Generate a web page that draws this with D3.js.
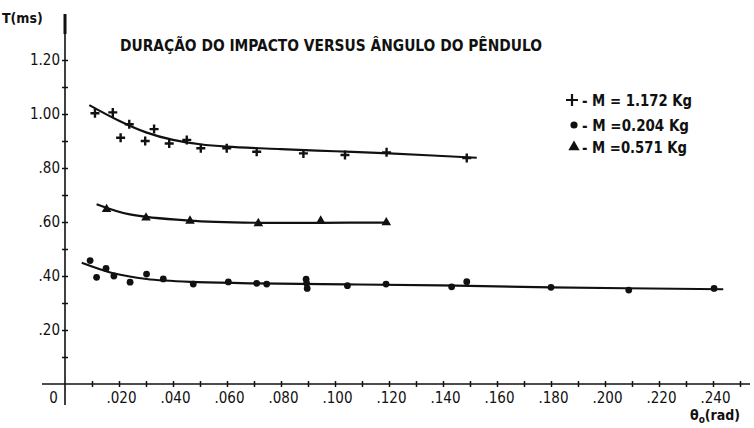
<!DOCTYPE html>
<html>
<head>
<meta charset="utf-8">
<script src="https://cdn.jsdelivr.net/npm/d3@7"></script>
<style>
  html, body { margin: 0; padding: 0; background: #fff; }
  svg { display: block; }
  text { font-family: "DejaVu Sans Condensed", "Liberation Sans Narrow", "Liberation Sans", sans-serif; fill: #111; }
</style>
</head>
<body>
<svg id="chart" width="754" height="428"></svg>
<script>
// Impact duration T (ms) against initial pendulum angle θo (rad), three masses
const titleText = "DURAÇÃO DO IMPACTO VERSUS ÂNGULO DO PÊNDULO";

// M = 1.172 Kg (crosses)
const plusX = [0.0111, 0.0177, 0.0206, 0.0238, 0.0297, 0.0330, 0.0386, 0.0451, 0.0503, 0.0599, 0.0710, 0.0883, 0.1037, 0.1191, 0.1488];
const plusY = [1.003, 1.006, 0.912, 0.962, 0.900, 0.944, 0.891, 0.904, 0.873, 0.873, 0.860, 0.854, 0.848, 0.858, 0.837];
const plusFitX = [0.009, 0.020, 0.030, 0.040, 0.050, 0.060, 0.080, 0.100, 0.120, 0.1525];
const plusFitY = [1.033, 0.975, 0.932, 0.904, 0.888, 0.879, 0.870, 0.862, 0.854, 0.838];

// M = 0.571 Kg (triangles)
const triX = [0.0154, 0.0300, 0.0463, 0.0716, 0.0947, 0.1190];
const triY = [0.647, 0.616, 0.604, 0.595, 0.604, 0.598];
const triFitX = [0.0117, 0.024, 0.046, 0.0716, 0.0947, 0.1200];
const triFitY = [0.666, 0.628, 0.605, 0.597, 0.597, 0.598];

// M = 0.204 Kg (dots)
const circX = [0.0093, 0.0117, 0.0152, 0.0181, 0.0241, 0.0302, 0.0364, 0.0475, 0.0605, 0.0710, 0.0747, 0.0893, 0.0895, 0.0897, 0.1046, 0.1189, 0.1432, 0.1488, 0.1800, 0.2088, 0.2404];
const circY = [0.457, 0.395, 0.428, 0.400, 0.377, 0.407, 0.389, 0.370, 0.378, 0.373, 0.370, 0.388, 0.373, 0.354, 0.364, 0.370, 0.360, 0.379, 0.358, 0.348, 0.354];
const circFitX = [0.0062, 0.0179, 0.0302, 0.0475, 0.071, 0.104, 0.139, 0.180, 0.2438];
const circFitY = [0.449, 0.410, 0.389, 0.378, 0.373, 0.369, 0.365, 0.358, 0.351];

// Axis ticks and labels
const xMajor = [0, 0.02, 0.04, 0.06, 0.08, 0.10, 0.12, 0.14, 0.16, 0.18, 0.20, 0.22, 0.24];
const xLabels = ["0", ".020", ".040", ".060", ".080", ".100", ".120", ".140", ".160", ".180", ".200", ".220", ".240"];
const xMinor = d3.range(1, 26).map(i => i / 100);
const yMajor = [0.2, 0.4, 0.6, 0.8, 1.0, 1.2];
const yLabels = [".20", ".40", ".60", ".80", "1.00", "1.20"];
const yMinor = d3.range(1, 13).map(i => i / 10);

const legendLabels = ["- M = 1.172 Kg", "- M =0.204 Kg", "- M =0.571 Kg"];
const legendWidths = [110, 107, 105];

const svg = d3.select("#chart");
const x = d3.scaleLinear().domain([0, 0.24]).range([65, 713]);
const y = d3.scaleLinear().domain([0, 1.2]).range([384, 60]);

const ink = "#111";

// axis lines
svg.append("line").attr("x1", 42).attr("x2", 750).attr("y1", y(0)).attr("y2", y(0))
  .attr("stroke", ink).attr("stroke-width", 1.6);
svg.append("line").attr("x1", x(0)).attr("x2", x(0)).attr("y1", 14).attr("y2", 405)
  .attr("stroke", ink).attr("stroke-width", 1.6);
svg.append("line").attr("x1", x(0)).attr("x2", x(0)).attr("y1", 14).attr("y2", 34)
  .attr("stroke", ink).attr("stroke-width", 3);

// x ticks crossing the axis
const gxMinor = svg.append("g").attr("transform", `translate(0,${y(0)})`)
  .call(d3.axisBottom(x).tickValues(xMinor).tickSize(6).tickFormat(""));
gxMinor.select(".domain").remove();
gxMinor.selectAll(".tick line").attr("y1", -3).attr("y2", 3).attr("stroke", ink).attr("stroke-width", 1.5);

const gxLab = svg.append("g").attr("transform", `translate(0,${y(0)})`)
  .call(d3.axisBottom(x).tickValues(xMajor).tickSize(0).tickPadding(8).tickFormat((d, i) => xLabels[i]));
gxLab.select(".domain").remove();
gxLab.selectAll("text").attr("font-size", 15).attr("fill", ink)
  .attr("dx", d => d === 0 ? -12 : 2)
  .style("font-family", '"DejaVu Sans Condensed", sans-serif');

// y ticks crossing the axis
const gyMinor = svg.append("g").attr("transform", `translate(${x(0)},0)`)
  .call(d3.axisLeft(y).tickValues(yMinor).tickSize(6).tickFormat(""));
gyMinor.select(".domain").remove();
gyMinor.selectAll(".tick line").attr("x1", -3).attr("x2", 3).attr("stroke", ink).attr("stroke-width", 1.5);

const gyLab = svg.append("g").attr("transform", `translate(${x(0)},0)`)
  .call(d3.axisLeft(y).tickValues(yMajor).tickSize(0).tickPadding(5).tickFormat((d, i) => yLabels[i]));
gyLab.select(".domain").remove();
gyLab.selectAll("text").attr("font-size", 15).attr("fill", ink)
  .style("font-family", '"DejaVu Sans Condensed", sans-serif');

// axis titles
svg.append("text").attr("x", 2).attr("y", 23).attr("font-size", 14).attr("font-weight", "bold").text("T(ms)");
const xt = svg.append("text").attr("x", 690).attr("y", 420).attr("font-size", 14).attr("font-weight", "bold");
xt.append("tspan").text("θ");
xt.append("tspan").attr("font-size", 10).attr("dy", 3).text("o");
xt.append("tspan").attr("dy", -3).text("(rad)");

// title
svg.append("text").attr("x", 120).attr("y", 51).attr("font-size", 16).attr("font-weight", "bold")
  .attr("textLength", 422).attr("lengthAdjust", "spacingAndGlyphs").text(titleText);

// fitted curves
const curve = d3.line().x(d => x(d[0])).y(d => y(d[1])).curve(d3.curveCatmullRom.alpha(0.5));
[[plusFitX, plusFitY], [triFitX, triFitY], [circFitX, circFitY]].forEach(([xs, ys]) => {
  svg.append("path").datum(xs.map((v, i) => [v, ys[i]]))
    .attr("d", curve).attr("fill", "none").attr("stroke", ink).attr("stroke-width", 2.2);
});

// markers
svg.append("g").selectAll("path").data(plusX.map((v, i) => [v, plusY[i]])).join("path")
  .attr("transform", d => `translate(${x(d[0])},${y(d[1])})`)
  .attr("d", "M-4.5,0H4.5M0,-4.5V4.5").attr("stroke", ink).attr("stroke-width", 2.4).attr("fill", "none");

svg.append("g").selectAll("circle").data(circX.map((v, i) => [v, circY[i]])).join("circle")
  .attr("cx", d => x(d[0])).attr("cy", d => y(d[1])).attr("r", 3.4).attr("fill", ink);

const triSym = d3.symbol().type(d3.symbolTriangle).size(40);
svg.append("g").selectAll("path").data(triX.map((v, i) => [v, triY[i]])).join("path")
  .attr("transform", d => `translate(${x(d[0])},${y(d[1])})`)
  .attr("d", triSym).attr("fill", ink);

// legend
const legRows = [100, 125, 147];
const lg = svg.append("g");
lg.append("path").attr("d", "M-6,0H6M0,-6V6").attr("transform", `translate(572,${legRows[0]})`)
  .attr("stroke", ink).attr("stroke-width", 2.2);
lg.append("circle").attr("cx", 574).attr("cy", legRows[1]).attr("r", 3.6).attr("fill", ink);
lg.append("path").attr("d", d3.symbol().type(d3.symbolTriangle).size(55)).attr("transform", `translate(574,${legRows[2]})`).attr("fill", ink);
legendLabels.forEach((t, i) => {
  lg.append("text").attr("x", 582).attr("y", legRows[i] + 6).attr("font-size", 16).attr("font-weight", "bold")
    .attr("textLength", legendWidths[i]).attr("lengthAdjust", "spacingAndGlyphs").text(t);
});
</script>
</body>
</html>
